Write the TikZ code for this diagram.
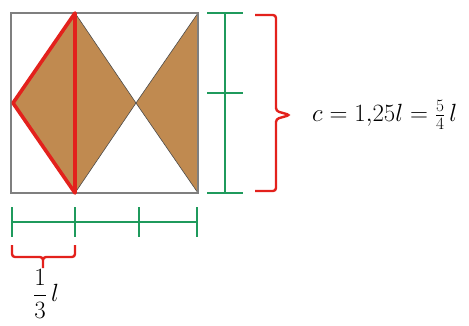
\documentclass[tikz,border=0pt]{standalone}
\usepackage{xcolor}
\usepackage{tikz}
\usetikzlibrary{positioning}
\definecolor{kitebrown}{HTML}{C08A50}
\definecolor{edgered}{HTML}{E3211C}
\definecolor{markgreen}{HTML}{1F9A5C}
\definecolor{framegray}{HTML}{7F7F7F}

\begin{document}
\begin{tikzpicture}[x=1pt, y=-1pt,
    frame/.style={draw=framegray, line width=1.4pt},
    shade/.style={fill=kitebrown, draw=black!70, line width=0.6pt},
    redline/.style={draw=edgered, line width=3.6pt, line join=round, line cap=round},
    brace/.style={draw=edgered, line width=2.4pt, rounded corners=3pt},
    measure/.style={draw=markgreen, line width=2.6pt},
    label/.style={inner sep=0pt, font=\fontsize{27}{31}\selectfont}]
  \useasboundingbox (0,0) rectangle (469,325);
  % corners and points of the figure
  \coordinate (tl) at (11,13);
  \coordinate (tr) at (198,13);
  \coordinate (bl) at (11,193);
  \coordinate (br) at (198,193);
  \coordinate (lp) at (13,103);
  \coordinate (mt) at (75,13);
  \coordinate (mb) at (75,193);
  \coordinate (cx) at (136,103);
  % shaded triangles
  \path[shade] (lp) -- (mt) -- (cx) -- (mb) -- cycle;
  \path[shade] (cx) -- (tr) -- (br) -- cycle;
  \draw[frame] (tl) rectangle (br);
  \draw[redline] (mt) -- (lp) -- (mb) -- cycle;
  % green ticks, right side
  \draw[measure] (225,13) -- (225,193);
  \foreach \y in {13,93,193}
    \draw[measure] (207,\y) -- (243,\y);
  % green ticks, bottom
  \draw[measure] (12,222) -- (197,222);
  \foreach \x in {12,75,139,197}
    \draw[measure] (\x,207) -- (\x,237);
  % braces
  \draw[brace] (255,15) -- (276,15) -- (276,111) -- (290,115) -- (276,119) -- (276,191) -- (255,191);
  \draw[brace] (12,245) -- (12,257) -- (43,257) -- (43,270) -- (43,257) -- (75,257) -- (75,245);
  % labels
  \node[label, anchor=west] (clabel) at (312,115) {$c = 1{,}25l = \frac{5}{4}\,l$};
  \node[label, anchor=west, font=\fontsize{24}{28}\selectfont] (llabel) at (33,294) {$\displaystyle\frac{1}{3}\,l$};
\end{tikzpicture}
\end{document}
